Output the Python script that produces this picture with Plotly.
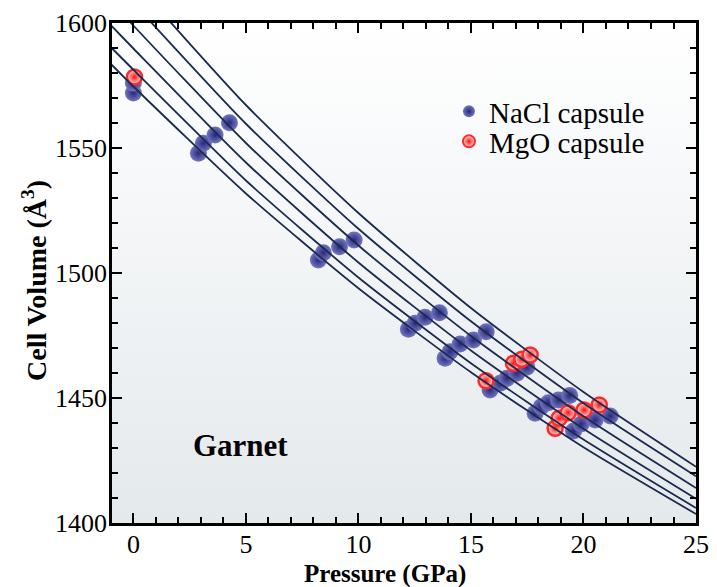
import base64
import plotly.graph_objects as go

# ---- data ----
nacl_p = [0.0, 0.0, 2.89, 3.11, 3.63, 4.27, 8.22, 8.44, 9.16, 9.81,
          12.22, 12.52, 12.96, 13.60, 13.85, 14.07, 14.52, 15.11, 15.68,
          15.85, 16.30, 16.60, 17.04, 17.48, 17.85, 18.12, 18.44, 18.89, 19.39,
          19.56, 19.90, 20.52, 21.19]
nacl_v = [1572.0, 1576.0, 1547.9, 1551.9, 1555.2, 1560.1, 1505.2, 1508.1, 1510.5, 1513.2,
          1477.5, 1479.9, 1482.3, 1484.1, 1465.9, 1468.5, 1471.6, 1473.2, 1476.5,
          1453.2, 1455.9, 1457.9, 1459.9, 1462.3, 1443.9, 1446.5, 1448.1, 1449.2, 1451.0,
          1436.8, 1439.6, 1441.2, 1442.8]

mgo_p = [0.05, 15.67, 16.89, 17.26, 17.63, 18.74, 18.92, 19.32, 20.03, 20.70]
mgo_v = [1578.4, 1456.9, 1463.9, 1465.5, 1467.2, 1437.9, 1441.9, 1444.1, 1445.2, 1447.2]

# fitted curves, read at selected pressures
curve_p = [-1, 0, 5, 10, 15, 20, 25]
curve_v = [
    [1627.5, 1617.0, 1567.2, 1524.0, 1486.0, 1452.4, 1422.5],
    [1618.0, 1608.0, 1559.7, 1517.7, 1480.7, 1447.9, 1418.7],
    [1609.0, 1599.0, 1552.0, 1511.0, 1474.8, 1442.7, 1414.0],
    [1599.1, 1589.8, 1544.2, 1504.2, 1469.0, 1437.7, 1409.7],
    [1590.3, 1581.3, 1537.0, 1498.2, 1463.9, 1433.4, 1406.0],
    [1583.6, 1574.6, 1531.8, 1493.9, 1460.3, 1430.3, 1403.6],
]

x_ticks = [0, 5, 10, 15, 20, 25]
y_ticks = [1400, 1450, 1500, 1550, 1600]

FONT = "Liberation Serif"

fig = go.Figure()

fig.add_trace(go.Scatter(
    x=nacl_p, y=nacl_v, mode="markers", name="NaCl capsule", legend="legend",
    marker=dict(size=17, color="#7476bd",
                gradient=dict(type="radial", color="#262880"),
                line=dict(width=0)),
))
fig.add_trace(go.Scatter(
    x=mgo_p, y=mgo_v, mode="markers", name="MgO capsule", legend="legend2",
    marker=dict(size=15, color="#ffe0e0",
                gradient=dict(type="radial", color="#ff1010"),
                line=dict(width=2.5, color="#ff2a2a")),
))
for cv in curve_v:
    fig.add_trace(go.Scatter(
        x=curve_p, y=cv, mode="lines", showlegend=False, hoverinfo="skip",
        line=dict(color="#1b2b4d", width=1.8, shape="spline", smoothing=0.6),
    ))

svg = ('<svg xmlns="http://www.w3.org/2000/svg" width="10" height="100" '
       'preserveAspectRatio="none"><defs><linearGradient id="g" x1="0" y1="0" '
       'x2="0" y2="1"><stop offset="0" stop-color="#ffffff"/>'
       '<stop offset="1" stop-color="#e4e9ec"/></linearGradient></defs>'
       '<rect width="10" height="100" fill="url(#g)"/></svg>')
src = "data:image/svg+xml;base64," + base64.b64encode(svg.encode()).decode()

fig.add_annotation(x=4.74, y=1431.2, xref="x", yref="y", text="<b>Garnet</b>",
                   showarrow=False, font=dict(family=FONT, size=31, color="black"))
fig.add_annotation(x=(385 - 112) / 584, y=-0.102, xref="paper", yref="paper",
                   text="<b>Pressure (GPa)</b>", showarrow=False,
                   xanchor="center", yanchor="middle",
                   font=dict(family=FONT, size=25, color="black"))
fig.add_annotation(x=(34 - 112) / 584, y=(523 - 281) / 500, xref="paper", yref="paper",
                   text="<b>Cell Volume (Å<sup>3</sup>)</b>", showarrow=False, textangle=-90,
                   xanchor="center", yanchor="middle",
                   font=dict(family=FONT, size=28, color="black"))

axis_common = dict(
    showgrid=False, zeroline=False, showline=True, linecolor="black", linewidth=2.5,
    mirror="ticks", ticks="inside", ticklen=10, tickwidth=1.8, tickcolor="black",
    tickfont=dict(family=FONT, size=26, color="black"), automargin=False,
)

legend_common = dict(xanchor="left", yanchor="top", bgcolor="rgba(0,0,0,0)", borderwidth=0,
                     font=dict(family=FONT, size=29, color="black"), itemsizing="constant")

fig.update_layout(
    width=717, height=587,
    margin=dict(l=112, r=21, t=23, b=64),
    paper_bgcolor="white", plot_bgcolor="rgba(0,0,0,0)",
    images=[dict(source=src, xref="paper", yref="paper", x=0, y=1, sizex=1, sizey=1,
                 xanchor="left", yanchor="top", sizing="stretch", layer="below")],
    xaxis=dict(range=[-0.95, 25], tickvals=x_ticks, ticklabelstandoff=-4,
               minor=dict(dtick=1, ticklen=6, tickwidth=1.5, tickcolor="black", ticks="inside"),
               **axis_common),
    yaxis=dict(range=[1400, 1600], tickvals=y_ticks, ticklabelstandoff=-3,
               minor=dict(dtick=10, ticklen=6, tickwidth=1.5, tickcolor="black", ticks="inside"),
               **axis_common),
    legend=dict(x=0.577, y=0.874, **legend_common),
    legend2=dict(x=0.577, y=0.814, **legend_common),
    showlegend=True,
)

fig.write_html("out.html", config={"displayModeBar": False},
               post_script="document.body.style.margin='0';document.body.style.overflow='hidden';")
